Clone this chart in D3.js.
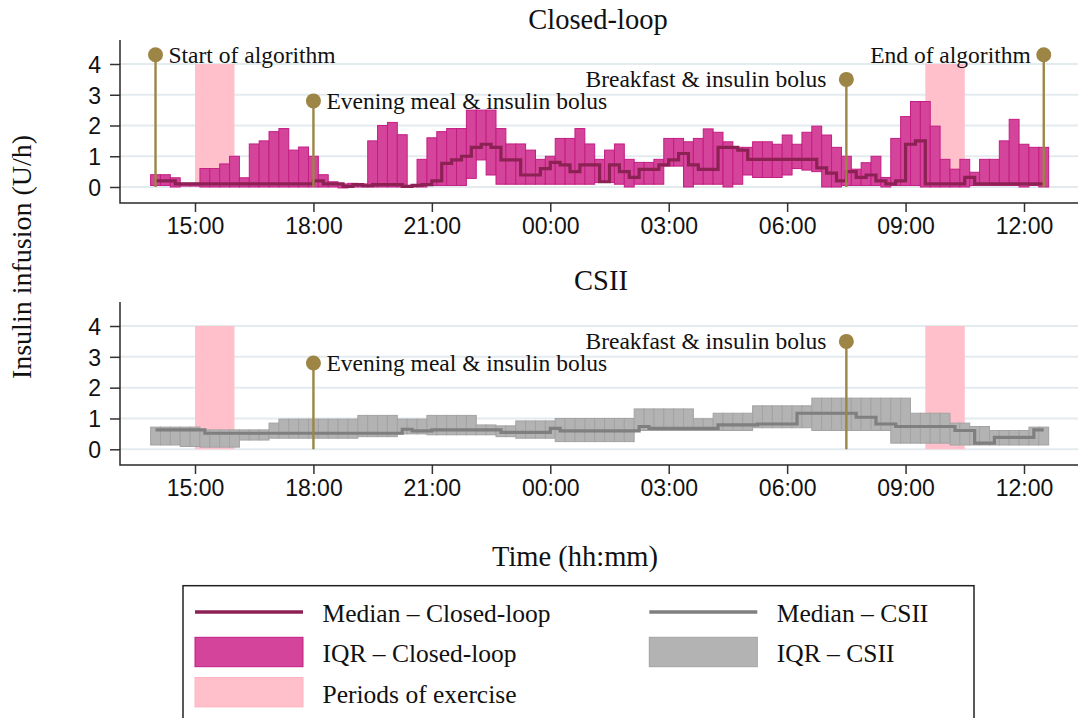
<!DOCTYPE html>
<html>
<head>
<meta charset="utf-8">
<script src="https://cdn.jsdelivr.net/npm/d3@7"></script>
<style>
  html, body { margin: 0; padding: 0; background: #fff; }
  svg { display: block; }
  .serif { font-family: "Liberation Serif", "Times New Roman", serif; fill: #111; }
  .tick text { font-family: "Liberation Sans", Arial, sans-serif; font-size: 23px; fill: #111; }
  .tick line { stroke: #333; stroke-width: 1.5; }
</style>
</head>
<body>
<svg id="chart" width="1080" height="718"></svg>
<script>
// ---------------- DATA ----------------
// 15-minute time points from 14:00 (day 1) to 12:30 (day 2), in hours (day 2 = +24)
const times = d3.range(0, 91).map(i => 14 + i * 0.25);

// Closed-loop: interquartile range (low / high) and median, U/h
const clLow = [
  0.05,0.05,0,0.03,0.03,0,0,0,0,0,
  0,0,0,0,0,0,0,0,0,-0.03,
  0,0,0,0,0,0,0,0,0.05,0.05,
  0.05,0.05,0.28,0.88,0.39,0.09,0.09,0.09,0.09,0.09,
  0.09,0.09,0.09,0.09,0.09,0.15,0.15,0.09,0,0.09,
  0.09,0.09,0.68,0.68,0,0.09,0.09,0.09,0,0.09,
  0.39,0.31,0.31,0.31,0.39,0.6,0.55,0.5,0,0,
  0.05,0.05,0.05,0.05,0,0.05,0.05,0.05,0,0,
  0,0,0,0.05,0.05,0.05,0.05,0.05,0,0.05,0
];
const clHigh = [
  0.4,0.4,0.3,0.12,0.12,0.6,0.6,0.75,1.0,0.3,
  1.4,1.5,1.8,1.9,1.2,1.3,1.0,0.4,0.17,0.1,
  0.12,0.1,1.5,2.0,2.1,1.7,0.05,0.9,1.6,1.8,
  1.9,1.9,2.5,2.5,2.5,1.9,1.4,1.4,1.2,0.9,
  1.0,1.58,1.58,1.9,1.4,0.9,1.2,1.4,0.9,0.8,
  0.8,0.9,1.58,1.58,1.47,1.58,1.89,1.78,1.47,1.29,
  1.29,1.47,1.47,1.39,1.69,1.39,1.78,1.98,1.69,1.29,
  1.0,0.58,0.79,1.0,0.31,1.58,2.29,2.78,2.78,1.98,
  0.9,0.58,0.9,0.48,0.9,0.9,1.5,2.2,1.39,1.29,1.29
];
const clMedian = [
  0.2,0.2,0.1,0.1,0.1,0.1,0.1,0.1,0.1,0.1,
  0.1,0.1,0.1,0.1,0.1,0.1,0.2,0.1,0.1,0.02,
  0.08,0.04,0.08,0.08,0.08,0.02,0.05,0.08,0.2,0.77,
  0.88,1.0,1.29,1.39,1.29,0.88,0.88,0.39,0.39,0.6,
  0.8,0.72,0.5,0.72,0.72,0.17,0.72,0.5,0.31,0.57,
  0.57,0.72,0.88,1.09,0.72,0.57,0.57,1.29,1.29,1.2,
  0.9,0.9,0.9,0.9,0.9,0.9,0.9,0.62,0.45,0.2,
  0.5,0.31,0.39,0.2,0.1,0.2,1.39,1.5,0.1,0.1,
  0.1,0.1,0.31,0.1,0.1,0.1,0.1,0.1,0.1,0.1,0.1
];

// CSII: interquartile range (low / high) and median, U/h
const csiiLow = [
  0.14,0.14,0.14,0.09,0.09,0.07,0.07,0.07,0.07,0.3,
  0.3,0.3,0.36,0.36,0.36,0.36,0.36,0.36,0.36,0.36,
  0.36,0.41,0.41,0.41,0.41,0.5,0.5,0.5,0.47,0.47,
  0.47,0.47,0.47,0.47,0.47,0.41,0.41,0.36,0.36,0.36,
  0.36,0.25,0.25,0.25,0.25,0.25,0.25,0.25,0.25,0.61,
  0.61,0.61,0.61,0.61,0.61,0.61,0.61,0.61,0.61,0.61,
  0.61,0.7,0.7,0.7,0.7,0.7,0.7,0.61,0.61,0.61,
  0.61,0.61,0.61,0.61,0.61,0.2,0.2,0.2,0.2,0.2,
  0.2,0.14,0.14,0.14,0.14,0.14,0.14,0.14,0.14,0.14,0.14
];
const csiiHigh = [
  0.72,0.72,0.72,0.72,0.72,0.63,0.63,0.63,0.63,0.63,
  0.63,0.63,0.85,0.98,0.98,0.98,0.98,0.98,0.98,0.98,
  0.98,1.1,1.1,1.1,1.1,0.98,0.98,0.98,1.1,1.1,
  1.1,1.1,1.1,0.79,0.79,0.76,0.76,0.92,0.92,0.92,
  0.92,1.0,1.0,1.0,1.0,1.0,1.0,1.0,1.0,1.31,
  1.31,1.31,1.31,1.31,1.31,0.99,0.99,1.17,1.17,1.17,
  1.17,1.41,1.41,1.41,1.41,1.41,1.41,1.66,1.66,1.66,
  1.66,1.66,1.66,1.66,1.66,1.66,1.66,1.17,1.17,1.17,
  1.17,0.85,0.85,0.74,0.74,0.61,0.61,0.61,0.61,0.72,0.72
];
const csiiMedian = [
  0.63,0.63,0.63,0.63,0.63,0.52,0.52,0.52,0.52,0.52,
  0.52,0.52,0.52,0.52,0.52,0.52,0.52,0.52,0.52,0.52,
  0.52,0.52,0.52,0.52,0.52,0.65,0.6,0.6,0.63,0.63,
  0.63,0.63,0.63,0.63,0.63,0.55,0.55,0.55,0.55,0.55,
  0.68,0.6,0.6,0.6,0.6,0.6,0.6,0.6,0.6,0.74,
  0.68,0.68,0.68,0.68,0.68,0.68,0.68,0.79,0.79,0.79,
  0.79,0.82,0.82,0.82,0.82,1.17,1.17,1.17,1.17,1.17,
  1.17,1.04,1.04,0.82,0.82,0.74,0.74,0.74,0.74,0.74,
  0.74,0.61,0.61,0.2,0.2,0.39,0.39,0.39,0.39,0.63,0.63
];

// Periods of exercise [start, end] in hours
const exerciseStart = [15, 33.5];
const exerciseEnd   = [16, 34.5];

// Event annotations
const clEventLabels = ["Start of algorithm", "Evening meal & insulin bolus", "Breakfast & insulin bolus", "End of algorithm"];
const clEventTimes  = [14, 18, 31.5, 36.5];
const clEventHeights = [4.3, 2.8, 3.5, 4.3];
const clEventSides  = ["right", "right", "left", "left"];
const csiiEventLabels = ["Evening meal & insulin bolus", "Breakfast & insulin bolus"];
const csiiEventTimes  = [18, 31.5];
const csiiEventHeights = [2.8, 3.5];
const csiiEventSides  = ["right", "left"];

const xTickValues = [15, 18, 21, 24, 27, 30, 33, 36];
const yTickValues = [0, 1, 2, 3, 4];

// ---------------- STYLE ----------------
const COL = {
  clBar: "#d4449b", clBarStroke: "#c41d83", clMed: "#8c2154",
  csBar: "#b3b3b3", csBarStroke: "#a3a3a3", csMed: "#7f7f7f",
  exercise: "#ffc0cb", event: "#9c8545", grid: "#e3ebef", axis: "#2a2a2a"
};

const svg = d3.select("#chart");
const plotLeft = 120, plotRight = 1078;
const x = d3.scaleLinear().domain([15, 36]).range([195, 1024]);
const halfStep = 0.125;

function panel(cfg) {
  const g = svg.append("g");
  const y = d3.scaleLinear().domain([0, 4]).range([cfg.y0, cfg.y4]);

  // gridlines
  g.append("g").selectAll("line").data(yTickValues).join("line")
    .attr("x1", plotLeft).attr("x2", plotRight)
    .attr("y1", d => y(d)).attr("y2", d => y(d))
    .attr("stroke", COL.grid).attr("stroke-width", 2);

  // exercise periods
  g.append("g").selectAll("rect").data(exerciseStart).join("rect")
    .attr("x", (d) => x(d))
    .attr("width", (d, i) => x(exerciseEnd[i]) - x(d))
    .attr("y", y(4)).attr("height", y(0) - y(4))
    .attr("fill", COL.exercise);

  // IQR bars
  g.append("g").selectAll("rect").data(times).join("rect")
    .attr("x", d => x(d - halfStep))
    .attr("width", d => x(d + halfStep) - x(d - halfStep))
    .attr("y", (d, i) => y(cfg.hi[i]))
    .attr("height", (d, i) => Math.max(0.5, y(cfg.lo[i]) - y(cfg.hi[i])))
    .attr("fill", cfg.bar).attr("stroke", cfg.barStroke).attr("stroke-width", 1);

  // median step line
  const line = d3.line().x(d => x(d[0])).y(d => y(d[1])).curve(d3.curveStepAfter);
  g.append("path").datum(times.map((t, i) => [t, cfg.med[i]]))
    .attr("d", line).attr("fill", "none")
    .attr("stroke", cfg.medCol).attr("stroke-width", 3.2).attr("stroke-linejoin", "miter");

  // events
  const ev = g.append("g").selectAll("g").data(cfg.evLabels).join("g");
  ev.append("line")
    .attr("x1", (d, i) => x(cfg.evTimes[i])).attr("x2", (d, i) => x(cfg.evTimes[i]))
    .attr("y1", (d, i) => y(cfg.evHeights[i])).attr("y2", y(0))
    .attr("stroke", COL.event).attr("stroke-width", 2.4);
  ev.append("circle")
    .attr("cx", (d, i) => x(cfg.evTimes[i])).attr("cy", (d, i) => y(cfg.evHeights[i]))
    .attr("r", 7.5).attr("fill", COL.event);
  ev.append("text").attr("class", "serif")
    .attr("x", (d, i) => x(cfg.evTimes[i]) + (cfg.evSides[i] === "right" ? 13 : (d.startsWith("Breakfast") ? -20 : -13)))
    .attr("y", (d, i) => y(cfg.evHeights[i]) + 8)
    .attr("text-anchor", (d, i) => cfg.evSides[i] === "right" ? "start" : "end")
    .style("font-size", "23.5px")
    .text(d => d);

  // axes
  const xa = g.append("g").attr("transform", `translate(0,${cfg.axisBottom})`)
    .call(d3.axisBottom(x).tickValues(xTickValues).tickSize(9).tickPadding(6)
      .tickFormat(h => String(h % 24).padStart(2, "0") + ":00"));
  xa.select(".domain").remove();
  const ya = g.append("g").attr("transform", `translate(${plotLeft},0)`)
    .call(d3.axisLeft(y).tickValues(yTickValues).tickSize(10).tickPadding(9)
      .tickFormat(d3.format("d")));
  ya.select(".domain").remove();
  ya.selectAll(".tick text").attr("dy", "0.36em");

  g.append("path")
    .attr("d", `M${plotLeft},${cfg.axisTop}V${cfg.axisBottom}H${plotRight}`)
    .attr("fill", "none").attr("stroke", COL.axis).attr("stroke-width", 1.5);

  // panel title
  g.append("text").attr("class", "serif")
    .attr("x", cfg.titleX).attr("y", cfg.titleY).attr("text-anchor", "middle")
    .style("font-size", "28.5px").text(cfg.title);
}

panel({
  title: "Closed-loop", titleX: 598, titleY: 29,
  y0: 187, y4: 64, axisTop: 40, axisBottom: 203,
  lo: clLow, hi: clHigh, med: clMedian,
  bar: COL.clBar, barStroke: COL.clBarStroke, medCol: COL.clMed,
  evLabels: clEventLabels, evTimes: clEventTimes, evHeights: clEventHeights, evSides: clEventSides
});
panel({
  title: "CSII", titleX: 601, titleY: 290,
  y0: 449.3, y4: 326, axisTop: 302, axisBottom: 465,
  lo: csiiLow, hi: csiiHigh, med: csiiMedian,
  bar: COL.csBar, barStroke: COL.csBarStroke, medCol: COL.csMed,
  evLabels: csiiEventLabels, evTimes: csiiEventTimes, evHeights: csiiEventHeights, evSides: csiiEventSides
});

// Axis titles
svg.append("text").attr("class", "serif")
  .attr("transform", "translate(31,257) rotate(-90)")
  .attr("text-anchor", "middle").style("font-size", "28px")
  .text("Insulin infusion (U/h)");
svg.append("text").attr("class", "serif")
  .attr("x", 575).attr("y", 566).attr("text-anchor", "middle")
  .style("font-size", "28.5px").text("Time (hh:mm)");

// Legend
const leg = svg.append("g");
leg.append("rect").attr("x", 183).attr("y", 585.7).attr("width", 791).attr("height", 160)
  .attr("fill", "#fff").attr("stroke", "#222").attr("stroke-width", 1.5);
const legendItems = [
  {type: "line", col: COL.clMed, label: "Median \u2013 Closed-loop", cx: 195, row: 0},
  {type: "rect", col: COL.clBar, stroke: COL.clBarStroke, label: "IQR \u2013 Closed-loop", cx: 195, row: 1},
  {type: "rect", col: COL.exercise, stroke: "#ffb3c0", label: "Periods of exercise", cx: 195, row: 2},
  {type: "line", col: COL.csMed, label: "Median \u2013 CSII", cx: 649.3, row: 0},
  {type: "rect", col: COL.csBar, stroke: COL.csBarStroke, label: "IQR \u2013 CSII", cx: 649.3, row: 1}
];
const rowMid = [612, 652, 692.2];
const rowBase = [621.7, 662.3, 702.7];
legendItems.forEach(it => {
  if (it.type === "line") {
    leg.append("line").attr("x1", it.cx).attr("x2", it.cx + 108)
      .attr("y1", rowMid[it.row]).attr("y2", rowMid[it.row])
      .attr("stroke", it.col).attr("stroke-width", 3.5);
  } else {
    leg.append("rect").attr("x", it.cx).attr("y", rowMid[it.row] - 14.7)
      .attr("width", 108).attr("height", 29.4)
      .attr("fill", it.col).attr("stroke", it.stroke).attr("stroke-width", 1);
  }
  leg.append("text").attr("class", "serif")
    .attr("x", it.cx + 127.5).attr("y", rowBase[it.row])
    .style("font-size", "25.5px").text(it.label);
});
</script>
</body>
</html>
